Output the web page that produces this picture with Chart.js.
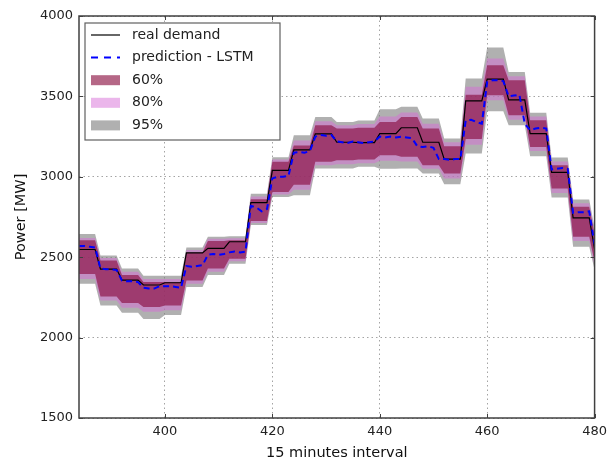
<!DOCTYPE html>
<html>
<head>
<meta charset="utf-8">
<script src="https://cdn.jsdelivr.net/npm/chart.js@4/dist/chart.umd.min.js"></script>
<style>
  html, body { margin: 0; padding: 0; background: #fff; }
</style>
</head>
<body>
<canvas id="chart" width="613" height="463"></canvas>
<script>
// x axis: 15 minute intervals, first one shown is 384
const firstInterval = 384;
const xTicks = [400, 420, 440, 460, 480];
const yTicks = [1500, 2000, 2500, 3000, 3500, 4000];

// hourly values (each hour = 4 intervals), last entry is interval 480
const realDemand = [2548, 2426, 2358, 2327, 2341, 2527, 2555, 2596, 2840, 3040, 3168, 3267,
                    3215, 3213, 3268, 3305, 3215, 3110, 3472, 3607, 3478, 3268, 3028, 2745, 2550];

// prediction - LSTM, one value per interval (384 ... 480)
const prediction = [
  2570, 2570, 2565, 2560,  2430, 2425, 2425, 2420,  2355, 2350, 2350, 2345,
  2310, 2305, 2305, 2320,  2320, 2320, 2315, 2310,  2445, 2440, 2445, 2450,
  2515, 2520, 2515, 2520,  2530, 2535, 2530, 2535,  2820, 2810, 2785, 2800,
  2990, 3000, 3000, 3005,  3150, 3155, 3150, 3160,  3250, 3260, 3255, 3260,
  3220, 3215, 3210, 3220,  3215, 3210, 3215, 3220,  3250, 3245, 3250, 3245,
  3250, 3245, 3240, 3190,  3185, 3190, 3180, 3110,  3110, 3105, 3110, 3110,
  3350, 3355, 3340, 3330,  3590, 3600, 3600, 3595,  3500, 3505, 3510, 3330,
  3290, 3300, 3305, 3300,  3045, 3050, 3055, 3050,  2775, 2780, 2780, 2785,
  2580
];

// prediction intervals, hourly
const low95  = [2335, 2200, 2155, 2115, 2140, 2315, 2390, 2460, 2700, 2875, 2885, 3052,
                3052, 3062, 3050, 3052, 3021, 2954, 3145, 3408, 3321, 3128, 2872, 2565, 2420];
const low80  = [2365, 2230, 2185, 2160, 2170, 2335, 2410, 2475, 2712, 2890, 2920, 3072,
                3078, 3085, 3100, 3095, 3050, 2990, 3200, 3476, 3355, 3160, 2900, 2600, 2445];
const low60  = [2395, 2255, 2215, 2190, 2200, 2355, 2430, 2490, 2725, 2905, 2950, 3093,
                3103, 3108, 3134, 3124, 3072, 3021, 3235, 3507, 3383, 3186, 2927, 2627, 2470];
const high60 = [2605, 2480, 2390, 2345, 2345, 2530, 2600, 2605, 2860, 3093, 3195, 3320,
                3300, 3305, 3341, 3372, 3300, 3190, 3510, 3694, 3600, 3352, 3072, 2813, 2640];
const high80 = [2620, 2495, 2410, 2365, 2365, 2545, 2615, 2618, 2878, 3108, 3225, 3345,
                3320, 3328, 3375, 3400, 3330, 3215, 3560, 3735, 3625, 3375, 3095, 2835, 2660];
const high95 = [2645, 2510, 2430, 2385, 2385, 2560, 2627, 2630, 2895, 3122, 3258, 3372,
                3341, 3350, 3420, 3435, 3362, 3238, 3611, 3804, 3652, 3398, 3120, 2859, 2680];

const legendLabels = ['real demand', 'prediction - LSTM', '60%', '80%', '95%'];

const colors = {
  demand: '#000000',
  prediction: '#0000ff',
  band60: 'rgba(135, 10, 60, 0.62)',
  band80: 'rgba(215, 110, 215, 0.5)',
  band95: 'rgba(128, 128, 128, 0.62)'
};

// hourly series -> one point per 15 min interval
function perInterval(hourly) {
  const pts = [];
  for (let i = 0; i < prediction.length; i++) {
    pts.push({ x: firstInterval + i, y: hourly[Math.floor(i / 4)] });
  }
  return pts;
}

const predPoints = prediction.map((v, i) => ({ x: firstInterval + i, y: v }));

function bandEdge(hourly, fill, color) {
  return {
    data: perInterval(hourly),
    borderWidth: 0,
    borderColor: 'rgba(0,0,0,0)',
    backgroundColor: color,
    pointRadius: 0,
    fill: fill
  };
}

// frame with inward ticks + legend box in the upper left corner
const frameAndLegend = {
  id: 'frameAndLegend',
  afterDraw(chart) {
    const { ctx, chartArea: a } = chart;
    const xs = chart.scales.x, ys = chart.scales.y;
    ctx.save();
    ctx.strokeStyle = '#404040';
    ctx.lineWidth = 1;
    ctx.beginPath();
    xTicks.forEach(v => {
      const px = Math.round(xs.getPixelForValue(v)) + 0.5;
      ctx.moveTo(px, a.bottom); ctx.lineTo(px, a.bottom - 4);
      ctx.moveTo(px, a.top); ctx.lineTo(px, a.top + 4);
    });
    yTicks.forEach(v => {
      const py = Math.round(ys.getPixelForValue(v)) + 0.5;
      ctx.moveTo(a.left, py); ctx.lineTo(a.left + 4, py);
      ctx.moveTo(a.right, py); ctx.lineTo(a.right - 4, py);
    });
    ctx.stroke();

    ctx.lineWidth = 1.5;
    ctx.strokeRect(a.left, a.top, a.right - a.left, a.bottom - a.top);

    const bx = a.left + 6, by = a.top + 7, bw = 195, bh = 117;
    ctx.fillStyle = '#ffffff';
    ctx.fillRect(bx, by, bw, bh);
    ctx.strokeStyle = '#606060';
    ctx.lineWidth = 1.2;
    ctx.strokeRect(bx, by, bw, bh);

    ctx.font = '14px "DejaVu Sans"';
    ctx.textBaseline = 'middle';
    const symX = bx + 6, symW = 29, textX = bx + 47;
    legendLabels.forEach((label, i) => {
      const cy = by + 12 + i * 22.6;
      if (i === 0) {
        ctx.strokeStyle = colors.demand; ctx.lineWidth = 1.2; ctx.setLineDash([]);
        ctx.beginPath(); ctx.moveTo(symX, cy); ctx.lineTo(symX + symW, cy); ctx.stroke();
      } else if (i === 1) {
        ctx.strokeStyle = colors.prediction; ctx.lineWidth = 2; ctx.setLineDash([7, 6]);
        ctx.beginPath(); ctx.moveTo(symX, cy); ctx.lineTo(symX + symW, cy); ctx.stroke();
        ctx.setLineDash([]);
      } else {
        const c = [colors.band60, colors.band80, colors.band95][i - 2];
        ctx.fillStyle = c;
        ctx.fillRect(symX, cy - 5, symW, 10);
      }
      ctx.fillStyle = '#222';
      ctx.fillText(label, textX, cy);
    });
    ctx.restore();
  }
};

new Chart(document.getElementById('chart'), {
  type: 'line',
  data: {
    datasets: [
      {
        label: legendLabels[1],
        data: predPoints,
        borderColor: colors.prediction,
        borderWidth: 2,
        borderDash: [6, 4],
        pointRadius: 0,
        fill: false
      },
      {
        label: legendLabels[0],
        data: perInterval(realDemand),
        borderColor: colors.demand,
        borderWidth: 1.2,
        pointRadius: 0,
        fill: false
      },
      bandEdge(high60, '+1', colors.band60),
      bandEdge(low60, false, colors.band60),
      bandEdge(high80, '+1', colors.band80),
      bandEdge(low80, false, colors.band80),
      bandEdge(high95, '+1', colors.band95),
      bandEdge(low95, false, colors.band95)
    ]
  },
  options: {
    responsive: false,
    animation: false,
    layout: { padding: { top: 16, right: 13, left: 0, bottom: 0 } },
    plugins: {
      legend: { display: false },
      tooltip: { enabled: false }
    },
    scales: {
      x: {
        type: 'linear',
        min: 384,
        max: 480,
        afterBuildTicks: (axis) => { axis.ticks = xTicks.map(v => ({ value: v })); },
        afterFit: (scale) => { scale.height = 45; },
        grid: { color: 'rgba(0,0,0,0.45)', lineWidth: 0.8, drawTicks: false },
        border: { display: false, dash: [1.5, 3] },
        ticks: { color: '#222', font: { family: 'DejaVu Sans', size: 13 }, padding: 6,
                 maxRotation: 0, callback: v => String(v) },
        title: { display: true, text: '15 minutes interval', color: '#111',
                 font: { family: 'DejaVu Sans', size: 14.5 }, padding: { top: 0, bottom: 1 } }
      },
      y: {
        min: 1500,
        max: 4000,
        afterBuildTicks: (axis) => { axis.ticks = yTicks.map(v => ({ value: v })); },
        afterFit: (scale) => { scale.width = 79; },
        grid: { color: 'rgba(0,0,0,0.45)', lineWidth: 0.8, drawTicks: false },
        border: { display: false, dash: [1.5, 3] },
        ticks: { color: '#222', font: { family: 'DejaVu Sans', size: 13 }, padding: 6,
                 callback: v => String(v) },
        title: { display: true, text: 'Power [MW]', color: '#111',
                 font: { family: 'DejaVu Sans', size: 14.5 }, padding: { top: 13, bottom: 0 } }
      }
    }
  },
  plugins: [frameAndLegend]
});
</script>
</body>
</html>
